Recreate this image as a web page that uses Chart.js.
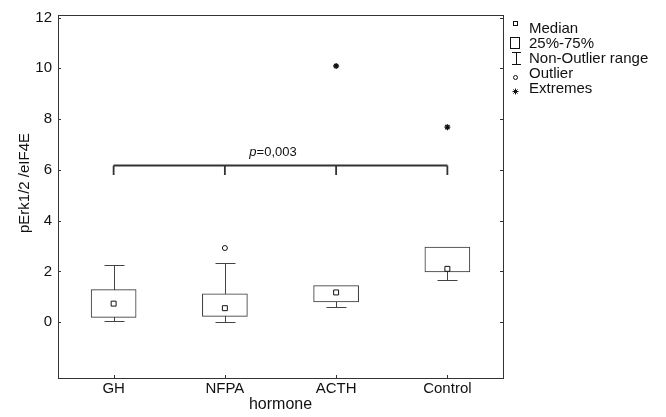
<!DOCTYPE html>
<html><head><meta charset="utf-8">
<script src="https://cdn.jsdelivr.net/npm/chart.js@4/dist/chart.umd.min.js"></script>
<style>html,body{margin:0;padding:0;background:#fff;}#wrap{width:666px;height:417px;position:relative;}</style>
</head><body><div id="wrap"><canvas id="c" width="666" height="417"></canvas></div>
<script>
const categories = ['GH', 'NFPA', 'ACTH', 'Control'];
const medians = [0.73, 0.55, 1.17, 2.10];
const q1 = [0.19, 0.23, 0.80, 1.98];
const q3 = [1.28, 1.12, 1.44, 2.96];
const whiskerLow = [0.05, 0.00, 0.58, 1.67];
const whiskerHigh = [2.25, 2.35, 1.44, 2.96];
const outliers = [null, 2.92, null, null];
const extremes = [null, null, 10.09, 7.68];
const yTicks = [0, 2, 4, 6, 8, 10, 12];
const bracketY = 6.2;
const bracketFootY = 5.8;
const pItalic = 'p';
const pRest = '=0,003';
const legendItems = ['Median', '25%-75%', 'Non-Outlier range', 'Outlier', 'Extremes'];
const xTitle = 'hormone';
const yTitle = 'pErk1/2 /eIF4E';

const FONT = "'Liberation Sans', Arial, sans-serif";
const INK = '#111';

const decor = {
  id: 'decor',
  beforeDatasetsDraw(chart) {
    const {ctx, scales: {x, y}} = chart;
    ctx.save();
    ctx.strokeStyle = '#444';
    ctx.lineWidth = 1;
    categories.forEach((c, i) => {
      const px = Math.round(x.getPixelForValue(i)) + 0.5;
      const lo = Math.round(y.getPixelForValue(whiskerLow[i])) + 0.5;
      const hi = Math.round(y.getPixelForValue(whiskerHigh[i])) + 0.5;
      ctx.beginPath();
      ctx.moveTo(px, lo); ctx.lineTo(px, hi);
      ctx.moveTo(px - 10, lo); ctx.lineTo(px + 10, lo);
      if (whiskerHigh[i] > q3[i]) { ctx.moveTo(px - 10, hi); ctx.lineTo(px + 10, hi); }
      ctx.stroke();
    });
    ctx.restore();
  },
  afterDatasetsDraw(chart) {
    const {ctx, chartArea: a, scales: {x, y}} = chart;
    ctx.save();
    // frame
    ctx.strokeStyle = '#333';
    ctx.lineWidth = 1;
    ctx.strokeRect(Math.round(a.left) + 0.5, Math.round(a.top) + 0.5, Math.round(a.right - a.left), Math.round(a.bottom - a.top));
    // inward ticks
    ctx.beginPath();
    yTicks.forEach(v => {
      const py = Math.round(y.getPixelForValue(v)) + 0.5;
      ctx.moveTo(a.left, py); ctx.lineTo(a.left + 3, py);
      ctx.moveTo(a.right, py); ctx.lineTo(a.right - 3, py);
    });
    categories.forEach((c, i) => {
      const px = Math.round(x.getPixelForValue(i)) + 0.5;
      ctx.moveTo(px, a.bottom); ctx.lineTo(px, a.bottom - 3);
    });
    ctx.stroke();
    // bracket
    const by = Math.round(y.getPixelForValue(bracketY)) + 0.5;
    const fy = y.getPixelForValue(bracketFootY);
    const x0 = x.getPixelForValue(0), x3 = x.getPixelForValue(categories.length - 1);
    ctx.lineWidth = 1.8;
    ctx.strokeStyle = '#333';
    ctx.beginPath();
    ctx.moveTo(x0, by); ctx.lineTo(x3, by);
    categories.forEach((c, i) => {
      const px = x.getPixelForValue(i);
      ctx.moveTo(px, by); ctx.lineTo(px, fy);
    });
    ctx.stroke();
    // p label
    ctx.fillStyle = INK;
    ctx.textBaseline = 'middle';
    ctx.font = 'italic 13px ' + FONT;
    const w1 = ctx.measureText(pItalic).width;
    ctx.font = '13px ' + FONT;
    const w2 = ctx.measureText(pRest).width;
    const cx = 273, cy = by - 13;
    let sx = cx - (w1 + w2) / 2;
    ctx.textAlign = 'left';
    ctx.font = 'italic 13px ' + FONT;
    ctx.fillText(pItalic, sx, cy);
    ctx.font = '13px ' + FONT;
    ctx.fillText(pRest, sx + w1, cy);
    // legend
    ctx.font = '15px ' + FONT;
    const rows = [29, 44, 59, 74, 89];
    legendItems.forEach((t, i) => ctx.fillText(t, 529, rows[i]));
    ctx.lineWidth = 1;
    ctx.strokeStyle = INK;
    ctx.strokeRect(513.5, 21.5, 4, 4);
    ctx.strokeRect(510.5, 37.5, 9, 11);
    ctx.beginPath();
    ctx.moveTo(516.5, 52); ctx.lineTo(516.5, 65);
    ctx.moveTo(512, 52.5); ctx.lineTo(521, 52.5);
    ctx.moveTo(512, 64.5); ctx.lineTo(521, 64.5);
    ctx.stroke();
    ctx.beginPath(); ctx.arc(515.5, 77.5, 2, 0, Math.PI * 2); ctx.stroke();
    ctx.beginPath();
    const sxs = 515.5, sys = 91.5, r = 3;
    for (let k = 0; k < 4; k++) {
      const ang = k * Math.PI / 4;
      ctx.moveTo(sxs - r * Math.cos(ang), sys - r * Math.sin(ang));
      ctx.lineTo(sxs + r * Math.cos(ang), sys + r * Math.sin(ang));
    }
    ctx.stroke();
    // y title
    ctx.translate(25, 183);
    ctx.rotate(-Math.PI / 2);
    ctx.textAlign = 'center';
    ctx.font = '15px ' + FONT;
    ctx.fillText(yTitle, 0, 0);
    ctx.restore();
  }
};

new Chart(document.getElementById('c'), {
  data: {
    labels: categories,
    datasets: [
      {
        type: 'bar',
        label: '25%-75%',
        data: categories.map((c, i) => [q1[i], q3[i]]),
        backgroundColor: '#fff',
        borderColor: '#333',
        borderWidth: 1,
        borderSkipped: false,
        barThickness: 45,
        order: 3
      },
      {
        type: 'line',
        label: 'Median',
        data: medians,
        showLine: false,
        pointStyle: 'rect',
        pointRadius: 3.5,
        pointBackgroundColor: '#fff',
        pointBorderColor: INK,
        pointBorderWidth: 1,
        order: 1
      },
      {
        type: 'line',
        label: 'Outlier',
        data: outliers,
        showLine: false,
        pointStyle: 'circle',
        pointRadius: 2.5,
        pointBackgroundColor: '#fff',
        pointBorderColor: INK,
        pointBorderWidth: 1,
        order: 1
      },
      {
        type: 'line',
        label: 'Extremes',
        data: extremes,
        showLine: false,
        pointStyle: 'star',
        pointRadius: 3,
        pointBorderColor: INK,
        pointBorderWidth: 1.3,
        order: 1
      }
    ]
  },
  options: {
    responsive: false,
    animation: false,
    devicePixelRatio: 1,
    layout: {padding: {left: 0, right: 163, top: 14, bottom: 0}},
    plugins: {legend: {display: false}, tooltip: {enabled: false}},
    scales: {
      x: {
        type: 'category',
        offset: true,
        grid: {display: false, drawTicks: false},
        border: {display: false},
        ticks: {font: {family: FONT, size: 15}, color: INK, padding: 2},
        title: {display: true, text: xTitle, font: {family: FONT, size: 16}, color: INK, padding: {top: 0, bottom: 3}},
        afterFit(s) { s.height = 39; }
      },
      y: {
        type: 'linear',
        min: -2.2,
        max: 12.1,
        grid: {display: false, drawTicks: false},
        border: {display: false},
        ticks: {font: {family: FONT, size: 15}, color: INK, padding: 6},
        afterBuildTicks(s) { s.ticks = yTicks.map(v => ({value: v})); },
        afterFit(s) { s.width = 58; }
      }
    }
  },
  plugins: [decor]
});
</script>
</body></html>
